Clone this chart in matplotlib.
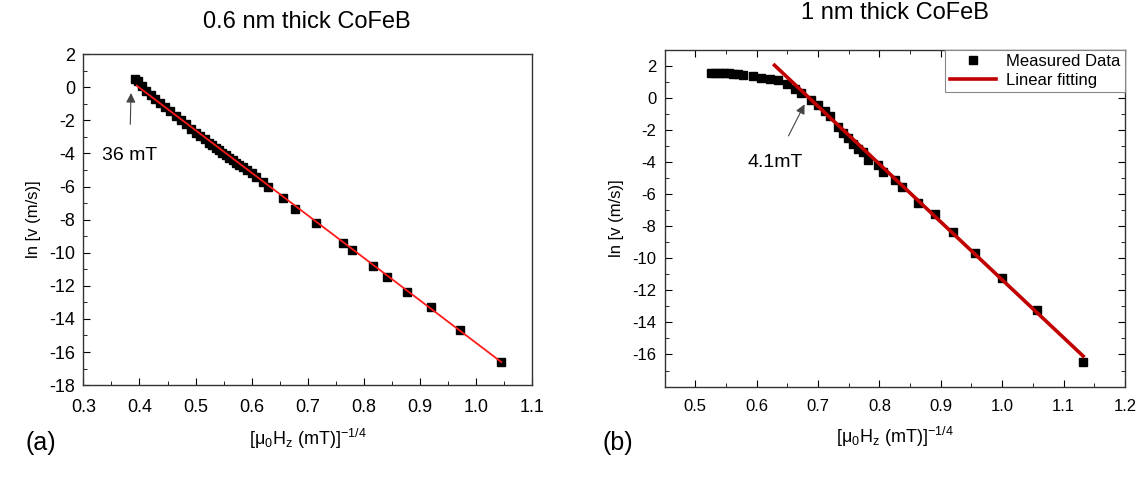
import numpy as np
import matplotlib
matplotlib.use("Agg")
import matplotlib.pyplot as plt
from matplotlib.ticker import MultipleLocator, FixedLocator, FormatStrFormatter

plt.rcParams['font.family'] = ['Liberation Sans', 'DejaVu Sans']
plt.rcParams['mathtext.fontset'] = 'custom'
plt.rcParams['mathtext.rm'] = 'Liberation Sans'
plt.rcParams['mathtext.it'] = 'Liberation Sans:italic'
plt.rcParams['axes.unicode_minus'] = False

# (a) 0.6 nm thick CoFeB
xa = [0.392, 0.398, 0.405, 0.412, 0.420, 0.428, 0.436, 0.445, 0.455, 0.465,
      0.474, 0.483, 0.492, 0.500, 0.508, 0.516, 0.524, 0.530, 0.536, 0.542,
      0.548, 0.554, 0.560, 0.566, 0.572, 0.578, 0.585, 0.592, 0.600, 0.608,
      0.620, 0.630, 0.656, 0.678, 0.715, 0.762, 0.779, 0.816, 0.842, 0.876,
      0.920, 0.972, 1.045]
ya = [0.50, 0.35, 0.05, -0.20, -0.45, -0.70, -0.95, -1.20, -1.45, -1.75,
      -2.00, -2.25, -2.50, -2.75, -2.95, -3.15, -3.35, -3.50, -3.65, -3.80,
      -3.95, -4.10, -4.25, -4.40, -4.55, -4.70, -4.85, -5.00, -5.20, -5.40,
      -5.75, -6.05, -6.69, -7.37, -8.23, -9.43, -9.84, -10.80, -11.48, -12.35,
      -13.30, -14.66, -16.60]
fit_a_x = [0.395, 1.045]
fit_a_slope, fit_a_icpt = -25.7, 10.25

# (b) 1 nm thick CoFeB
xb = [0.525, 0.532, 0.540, 0.547, 0.555, 0.562, 0.570, 0.578, 0.594, 0.607,
      0.622, 0.634, 0.650, 0.662, 0.673, 0.689, 0.700, 0.711, 0.719, 0.732,
      0.741, 0.749, 0.757, 0.765, 0.773, 0.781, 0.798, 0.806, 0.825, 0.836,
      0.863, 0.891, 0.920, 0.956, 0.999, 1.056, 1.132]
yb = [1.55, 1.55, 1.55, 1.54, 1.53, 1.50, 1.48, 1.45, 1.35, 1.25,
      1.15, 1.10, 0.85, 0.58, 0.33, -0.14, -0.45, -0.80, -1.15, -1.80,
      -2.20, -2.50, -2.90, -3.20, -3.40, -3.90, -4.20, -4.60, -5.13, -5.55,
      -6.58, -7.27, -8.35, -9.66, -11.20, -13.20, -16.45]
fit_b_x = [0.629, 1.132]
fit_b_slope, fit_b_icpt = -36.06, 24.72

xlabel = r'[μ$_\mathrm{0}$H$_\mathrm{z}$ (mT)]$^\mathrm{-1/4}$'
ylabel = 'ln [v (m/s)]'

fig = plt.figure(figsize=(11.42, 4.79), dpi=100)
ax1 = fig.add_axes([0.073, 0.196, 0.393, 0.691])
ax2 = fig.add_axes([0.582, 0.193, 0.403, 0.703])

# panel a
ax1.plot(xa, ya, 's', color='black', ms=6, zorder=2)
fx = np.array(fit_a_x)
ax1.plot(fx, fit_a_icpt + fit_a_slope * fx, color='#ff1a1a', lw=1.3, zorder=3)
ax1.set_xlim(0.3, 1.1)
ax1.set_ylim(-18, 2)
ax1.xaxis.set_major_locator(MultipleLocator(0.1))
ax1.xaxis.set_minor_locator(MultipleLocator(0.05))
ax1.xaxis.set_major_formatter(FormatStrFormatter('%.1f'))
ax1.yaxis.set_major_locator(MultipleLocator(2))
ax1.yaxis.set_minor_locator(MultipleLocator(1))
ax1.tick_params(which='both', direction='in', top=False, right=False, labelsize=13)
ax1.tick_params(which='major', length=5)
ax1.tick_params(which='minor', length=3)
ax1.tick_params(axis='x', pad=10)
ax1.tick_params(axis='y', pad=6)
ax1.set_xlabel(xlabel, fontsize=13, labelpad=8)
ax1.set_ylabel(ylabel, fontsize=12, labelpad=6)
ax1.annotate('36 mT', xy=(0.385, -0.35), xytext=(0.333, -4.1),
             fontsize=14, va='center', ha='left',
             arrowprops=dict(arrowstyle='-|>', color='#444444', lw=0.8,
                             shrinkA=14, shrinkB=0, mutation_scale=14))

# panel b
ax2.plot(xb, yb, 's', color='black', ms=6, label='Measured Data', zorder=2)
fx = np.array(fit_b_x)
ax2.plot(fx, fit_b_icpt + fit_b_slope * fx, color='#c00000', lw=2.6,
         label='Linear fitting', zorder=3)
ax2.set_xlim(0.45, 1.2)
ax2.set_ylim(-18, 3)
ax2.xaxis.set_major_locator(FixedLocator(np.round(np.arange(0.5, 1.21, 0.1), 1)))
ax2.xaxis.set_minor_locator(MultipleLocator(0.05))
ax2.xaxis.set_major_formatter(FormatStrFormatter('%.1f'))
ax2.yaxis.set_major_locator(FixedLocator(np.arange(-16, 3, 2)))
ax2.yaxis.set_minor_locator(MultipleLocator(1))
ax2.tick_params(which='both', direction='in', top=True, right=True, labelsize=12)
ax2.tick_params(which='major', length=5)
ax2.tick_params(which='minor', length=3)
ax2.tick_params(axis='x', pad=9)
ax2.tick_params(axis='y', pad=6)
ax2.set_xlabel(xlabel, fontsize=13, labelpad=8)
ax2.set_ylabel(ylabel, fontsize=12, labelpad=6)
ax2.annotate('4.1mT', xy=(0.678, -0.4), xytext=(0.585, -4.0),
             fontsize=14, va='center', ha='left',
             arrowprops=dict(arrowstyle='-|>', color='#444444', lw=0.8,
                             shrinkA=12, shrinkB=0, mutation_scale=14))
leg = ax2.legend(loc='upper right', borderaxespad=0, fontsize=12,
                 fancybox=False, framealpha=1, handlelength=2.8,
                 borderpad=0.25, labelspacing=0.25, handletextpad=0.6)
leg.get_frame().set_edgecolor('#888888')
leg.get_frame().set_linewidth(0.8)

for ax in (ax1, ax2):
    for s in ax.spines.values():
        s.set_color('#333333')
        s.set_linewidth(1.0)

fig.text(0.269, 0.955, '0.6 nm thick CoFeB', fontsize=17, ha='center', va='center')
fig.text(0.784, 0.972, '1 nm thick CoFeB', fontsize=17, ha='center', va='center')
fig.text(0.022, 0.06, '(a)', fontsize=18)
fig.text(0.528, 0.06, '(b)', fontsize=18)

fig.savefig('out.png', dpi=100)
